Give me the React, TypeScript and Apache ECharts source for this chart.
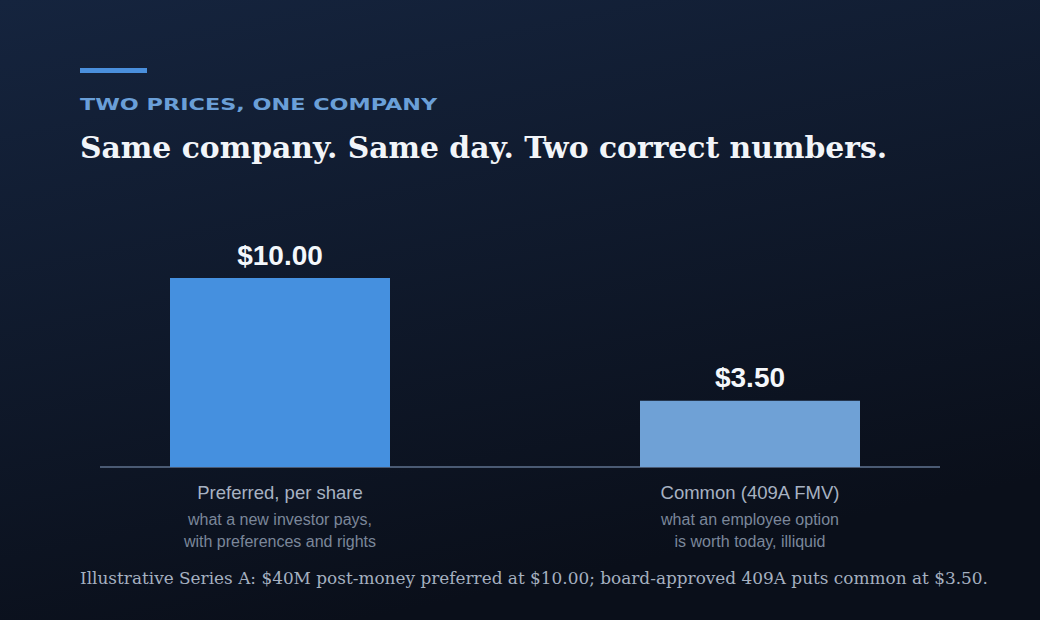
import React, { useEffect, useRef } from "react";
import * as echarts from "echarts";

const categories = ["Preferred, per share", "Common (409A FMV)"];
const subLines = [
  ["what a new investor pays,", "with preferences and rights"],
  ["what an employee option", "is worth today, illiquid"],
];
const values = [10.0, 3.5];
const barColors = ["#4590df", "#6fa1d6"];
const kicker = "TWO PRICES, ONE COMPANY";
const title = "Same company. Same day. Two correct numbers.";
const footnote =
  "Illustrative Series A: $40M post-money preferred at $10.00; board-approved 409A puts common at $3.50.";

export default function App() {
  const ref = useRef<HTMLDivElement>(null);
  useEffect(() => {
    if (!ref.current) return;
    const chart = echarts.init(ref.current, null, { renderer: "svg" });
    chart.setOption({
      animation: false,
      backgroundColor: new echarts.graphic.LinearGradient(0, 0, 0.35, 1, [
        { offset: 0, color: "#15243e" },
        { offset: 1, color: "#0a0f1a" },
      ]),
      grid: { left: 45, right: 55, top: 278, bottom: 153 },
      xAxis: {
        type: "category",
        data: categories,
        axisLine: { show: false },
        axisTick: { show: false },
        axisLabel: {
          margin: 9,
          interval: 0,
          formatter: (v: string, i: number) =>
            `{a|${v}}\n{b|${subLines[i][0]}}\n{b|${subLines[i][1]}}`,
          rich: {
            a: { fontFamily: "Liberation Sans, Arial, sans-serif", fontSize: 18.5, color: "#a7b2c2", lineHeight: 32 },
            b: { fontFamily: "Liberation Sans, Arial, sans-serif", fontSize: 16, color: "#7b879a", lineHeight: 22 },
          },
        },
      },
      yAxis: { type: "value", min: 0, max: 10, show: false, splitLine: { show: false } },
      series: [
        {
          type: "bar",
          barWidth: 220,
          data: values.map((v, i) => ({ value: v, itemStyle: { color: barColors[i] } })),
          label: {
            show: true,
            position: "top",
            distance: 9,
            formatter: (p: any) => "$" + p.value.toFixed(2),
            fontFamily: "Liberation Sans, Arial, sans-serif",
            fontWeight: "bold",
            fontSize: 28,
            color: "#f4f7fb",
          },
        },
      ],
      graphic: [
        { type: "rect", left: 80, top: 68, shape: { width: 67, height: 5 }, style: { fill: "#4a8fdc" } },
        {
          type: "line",
          shape: { x1: 100, y1: 467, x2: 940, y2: 467 },
          style: { stroke: "#4a5a73", lineWidth: 2 },
        },
        {
          type: "text",
          x: 80,
          y: 96,
          scaleX: 1.355,
          style: {
            text: kicker,
            fontFamily: "DejaVu Sans, Arial, sans-serif",
            fontWeight: "bold",
            fontSize: 16.5,
            verticalAlign: "top",
            fill: "#6a9fd8",
          },
        },
        {
          type: "text",
          left: 80,
          top: 132,
          style: {
            text: title,
            fontFamily: "DejaVu Serif, Georgia, serif",
            fontWeight: "bold",
            fontSize: 29.8,
            fill: "#f2f5f9",
          },
        },
        {
          type: "text",
          left: 80,
          top: 569,
          style: {
            text: footnote,
            fontFamily: "DejaVu Serif, Georgia, serif",
            fontSize: 16.9,
            fill: "#a5b0c0",
          },
        },
      ],
    });
    return () => chart.dispose();
  }, []);
  return <div ref={ref} style={{ position: "fixed", left: 0, top: 0, width: 1040, height: 620 }} />;
}
